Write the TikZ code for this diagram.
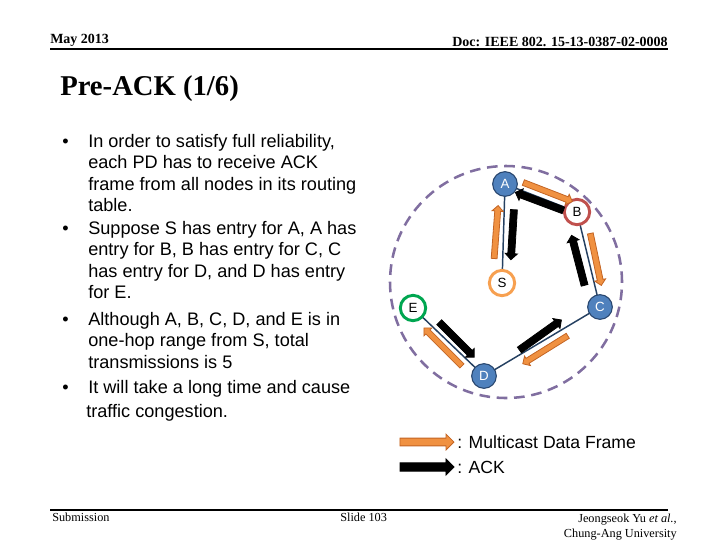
\documentclass[tikz,border=0pt]{standalone}
\usepackage{fontspec}
\setmainfont{Liberation Serif}
\setsansfont{Liberation Sans}
\usetikzlibrary{shapes.arrows,calc}
\definecolor{nodeblue}{RGB}{79,129,189}
\definecolor{nodeedge}{RGB}{40,70,110}
\definecolor{linkc}{RGB}{37,64,97}
\definecolor{redc}{RGB}{192,80,77}
\definecolor{orgc}{RGB}{247,160,80}
\definecolor{greenc}{RGB}{0,166,80}
\definecolor{purc}{RGB}{128,110,160}
\definecolor{afill}{RGB}{240,145,65}
\definecolor{aedge}{RGB}{195,100,35}
\newcommand\blockarr[3]{\path let \p1=(#2), \p2=(#3), \n1={atan2(\y2-\y1,\x2-\x1)}, \n2={veclen(\x2-\x1,\y2-\y1)} in node[#1, minimum height=\n2, rotate=\n1] at ($(#2)!0.5!(#3)$) {};}
\tikzset{
  body/.style={anchor=base west, inner sep=0pt, font=\sffamily\fontsize{13.6}{15}\selectfont},
  bul/.style={anchor=base west, inner sep=0pt, font=\sffamily\fontsize{13.6}{15}\selectfont},
  netnode/.style={circle, minimum size=18.5pt, inner sep=0pt, font=\sffamily\fontsize{10}{11}\selectfont},
  filled/.style={netnode, fill=nodeblue, draw=nodeedge, line width=0.8pt, text=white},
  ring/.style={netnode, fill=white, line width=2.2pt, minimum size=19pt},
  link/.style={draw=linkc, line width=1.1pt},
  oarr/.style={single arrow, fill=afill, draw=aedge, line width=0.6pt, inner sep=1.9pt, single arrow head extend=2pt, single arrow head indent=0pt},
  karr/.style={single arrow, fill=black, draw=black, line width=0.6pt, inner sep=2.3pt, single arrow head extend=2pt, single arrow head indent=0pt},
  legoarr/.style={oarr, inner sep=2.6pt, single arrow head extend=3pt},
  legkarr/.style={karr, inner sep=2.8pt, single arrow head extend=3pt},
  hdr/.style={inner sep=0pt, font=\bfseries\fontsize{10.5}{12}\selectfont},
  ftr/.style={inner sep=0pt, font=\fontsize{9.2}{11}\selectfont},
}
\begin{document}
\begin{tikzpicture}[x=0.75pt,y=-0.75pt]
\useasboundingbox (0,0) rectangle (720,540);
% header
\node[hdr, anchor=base west] (hl) at (50,43) {May 2013};
\node[hdr, anchor=base east] (hr) at (668,46) {Doc: IEEE 802. 15-13-0387-02-0008};
\draw[line width=1.6pt] (50,49) coordinate (h1) -- (668,49) coordinate (h2);
% title
\node[anchor=base west, inner sep=0pt, font=\bfseries\fontsize{21.5}{24}\selectfont] (title) at (60,95) {Pre-ACK (1/6)};
% bullets
\node[bul] (b1) at (62,147) {•};
\node[body] (t11) at (88,147) {In order to satisfy full reliability,};
\node[body] (t12) at (88,168.5) {each PD has to receive ACK};
\node[body] (t13) at (88,190) {frame from all nodes in its routing};
\node[body] (t14) at (88,211.5) {table.};
\node[bul] (b2) at (62,234) {•};
\node[body] (t21) at (88,234) {Suppose S has entry for A, A has};
\node[body] (t22) at (88,255.5) {entry for B, B has entry for C, C};
\node[body] (t23) at (88,277) {has entry for D, and D has entry};
\node[body] (t24) at (88,298.5) {for E.};
\node[bul] (b3) at (62,325) {•};
\node[body] (t31) at (88,325) {Although A, B, C, D, and E is in};
\node[body] (t32) at (88,346.5) {one-hop range from S, total};
\node[body] (t33) at (88,368) {transmissions is 5};
\node[bul] (b4) at (62,393) {•};
\node[body] (t41) at (88,393) {It will take a long time and cause};
\node[body] (t42) at (86,417) {traffic congestion.};
% dashed range circle
\node[circle, draw=purc, line width=1.9pt, dash pattern=on 8pt off 5pt, minimum size=174pt, inner sep=0pt] (range) at (506,282) {};
% network nodes
\coordinate (pA) at (505,184);
\coordinate (pB) at (577,212);
\coordinate (pS) at (502,283);
\coordinate (pC) at (600,307);
\coordinate (pE) at (413,308);
\coordinate (pD) at (484,376);
\draw[link] (pA) -- (pS);
\draw[link] (pA) -- (pB);
\draw[link] (pB) -- (pC);
\draw[link] (pC) -- (pD);
\draw[link] (pD) -- (pE);
\node[filled] (A) at (pA) {A};
\node[ring, draw=redc] (B) at (pB) {B};
\node[ring, draw=orgc] (S) at (pS) {S};
\node[filled] (C) at (pC) {C};
\node[ring, draw=greenc] (E) at (pE) {E};
\node[filled] (D) at (pD) {D};
% arrows: A-B
\coordinate (ab1) at (522,182); \coordinate (ab2) at (571,201);
\coordinate (ba1) at (565,211); \coordinate (ba2) at (517,193);
\blockarr{oarr}{ab1}{ab2}
\blockarr{karr}{ba1}{ba2}
% S-A
\coordinate (sa1) at (494,260); \coordinate (sa2) at (498,207);
\coordinate (as1) at (514,208); \coordinate (as2) at (511,258);
\blockarr{oarr}{sa1}{sa2}
\blockarr{karr}{as1}{as2}
% B-C
\coordinate (bc1) at (590,232); \coordinate (bc2) at (601,284);
\coordinate (cb1) at (585,287); \coordinate (cb2) at (572,237);
\blockarr{oarr}{bc1}{bc2}
\blockarr{karr}{cb1}{cb2}
% C-D
\coordinate (dc1) at (518,351); \coordinate (dc2) at (560,321);
\coordinate (cd1) at (569,335); \coordinate (cd2) at (524,363);
\blockarr{karr}{dc1}{dc2}
\blockarr{oarr}{cd1}{cd2}
% D-E
\coordinate (ed1) at (438,321); \coordinate (ed2) at (473,356);
\coordinate (de1) at (463,367); \coordinate (de2) at (425,329);
\blockarr{karr}{ed1}{ed2}
\blockarr{oarr}{de1}{de2}
% legend
\coordinate (lo1) at (398,442); \coordinate (lo2) at (452,442);
\coordinate (lk1) at (398,467); \coordinate (lk2) at (452,467);
\blockarr{legoarr}{lo1}{lo2}
\blockarr{legkarr}{lk1}{lk2}
\node[anchor=west, inner sep=0pt, font=\sffamily\fontsize{13.2}{15}\selectfont] (lt1) at (457,442) {: Multicast Data Frame};
\node[anchor=west, inner sep=0pt, font=\sffamily\fontsize{13.2}{15}\selectfont] (lt2) at (457,467) {: ACK};
% footer
\draw[line width=1.6pt] (50,510) coordinate (f1) -- (668,510) coordinate (f2);
\node[ftr, anchor=base west] (sub) at (52,521) {Submission};
\node[ftr, anchor=base west] (sl) at (340,521) {Slide 103};
\node[ftr, anchor=base east] (au1) at (677,522) {Jeongseok Yu \textit{et al.},};
\node[ftr, anchor=base east] (au2) at (677,537) {Chung-Ang University};
\end{tikzpicture}
\end{document}
